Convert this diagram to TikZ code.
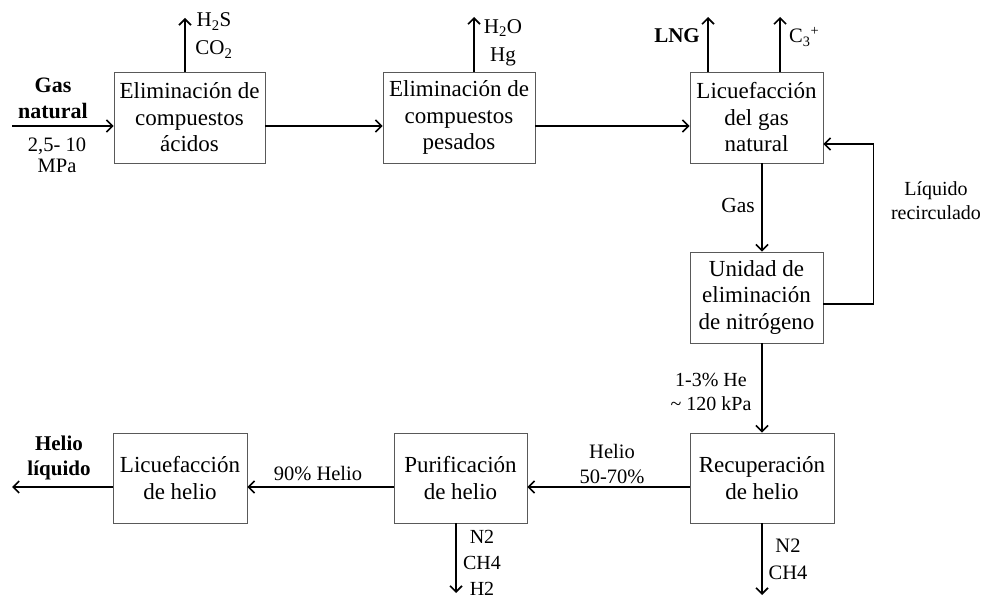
\documentclass[tikz,border=0pt]{standalone}
\usepackage{fontspec}
\setmainfont{Liberation Serif}
\usetikzlibrary{arrows.meta}
\tikzset{
block/.style={ % process units
draw=black!65, line width=0.8pt,
minimum height=91pt, align=center, inner sep=0pt,
font=\fontsize{23}{26.5}\selectfont},
lbl/.style={align=center, inner sep=0pt,
font=\fontsize{20.5}{25}\selectfont},
boldlbl/.style={align=center, inner sep=0pt,
font=\fontsize{21}{25}\selectfont\bfseries},
flow/.style={ % process streams
draw, line width=1.6pt,
-{Straight Barb[length=6pt,width=12pt]}}}

\begin{document}
\begin{tikzpicture}[x=1pt,y=-1pt]
\useasboundingbox (0,0) rectangle (991,601);
% units
\node[block, minimum width=151pt] (acid) at (189.5,117.5) {Eliminación de\\compuestos\\ácidos};
\node[block, minimum width=152pt] (heavy) at (459,117.5) {Eliminación de\\compuestos\\pesados};
\node[block, minimum width=133pt] (lngu) at (756.5,117.5) {Licuefacción\\del gas\\natural};
\node[block, minimum width=133pt] (nru) at (756.5,297.5) {Unidad de\\eliminación\\de nitrógeno};
\node[block, minimum width=144pt, minimum height=90pt] (herec) at (762,478) {Recuperación\\de helio};
\node[block, minimum width=133pt, minimum height=90pt] (purif) at (460.5,478) {Purificación\\de helio};
\node[block, minimum width=134pt, minimum height=90pt] (heliq) at (180,478) {Licuefacción\\de helio};
% free ends
\coordinate (feed) at (12,126);
\coordinate (prod) at (12,487);
\coordinate (h2s) at (185,18);
\coordinate (h2o) at (474,17);
\coordinate (lng) at (708,17);
\coordinate (c3) at (780,17);
\coordinate (col) at (762,0);
\coordinate (waste1) at (762,595);
\coordinate (waste2) at (456,593);
% streams
\draw[flow] (feed) -- (feed -| acid.west);
\draw[flow] (acid.east |- feed) -- (heavy.west |- feed);
\draw[flow] (heavy.east |- feed) -- (lngu.west |- feed);
\draw[flow] (acid.north -| h2s) -- (h2s);
\draw[flow] (heavy.north -| h2o) -- (h2o);
\draw[flow] (lngu.north -| lng) -- (lng);
\draw[flow] (lngu.north -| c3) -- (c3);
\draw[flow] (lngu.south -| col) -- (nru.north -| col);
\draw[flow] ([yshift=-6.5pt]nru.east) -- ++(50,0) |- ([yshift=-26.5pt]lngu.east);
\draw[flow] (nru.south -| col) -- (herec.north);
\draw[flow] (herec.south) -- (waste1);
\draw[flow] (herec.west |- prod) -- (purif.east |- prod);
\draw[flow] (purif.south -| waste2) -- (waste2);
\draw[flow] (purif.west |- prod) -- (heliq.east |- prod);
\draw[flow] (heliq.west |- prod) -- (prod);
% labels
\node[boldlbl, font=\fontsize{22}{26}\selectfont\bfseries] (feedlbl) at (53,98.5) {Gas\\natural};
\node[lbl, font=\fontsize{20.5}{21}\selectfont] (presslbl) at (57,155) {2,5- 10\\MPa};
\node[lbl, font=\fontsize{21}{28}\selectfont] (acidlbl) at (214,35.5) {H\textsubscript{2}S\\CO\textsubscript{2}};
\node[lbl, font=\fontsize{21}{28}\selectfont] (heavylbl) at (503,42.5) {H\textsubscript{2}O\\Hg};
\node[boldlbl, anchor=base east] (lnglbl) at (700,43) {LNG};
\node[lbl, anchor=base west] (c3lbl) at (789,43) {C\textsubscript{3}\textsuperscript{+}};
\node[lbl, anchor=base, font=\fontsize{21.5}{25}\selectfont] (gaslbl) at (738,213) {Gas};
\node[lbl, font=\fontsize{20}{24}\selectfont] (reclbl) at (936,201) {Líquido\\recirculado};
\node[lbl, font=\fontsize{20}{24}\selectfont] (nrulbl) at (711,391.5) {1-3\% He\\\textasciitilde{} 120 kPa};
\node[lbl] (helbl) at (612,464) {Helio\\50-70\%};
\node[lbl, anchor=base] (p90lbl) at (318,480) {90\% Helio};
\node[boldlbl] (heliqlbl) at (59,457.5) {Helio\\líquido};
\node[lbl, font=\fontsize{20}{26}\selectfont] (w2lbl) at (482,563) {N2\\CH4\\H2};
\node[lbl, font=\fontsize{20.5}{27}\selectfont] (w1lbl) at (788,559.5) {N2\\CH4};
\end{tikzpicture}
\end{document}
